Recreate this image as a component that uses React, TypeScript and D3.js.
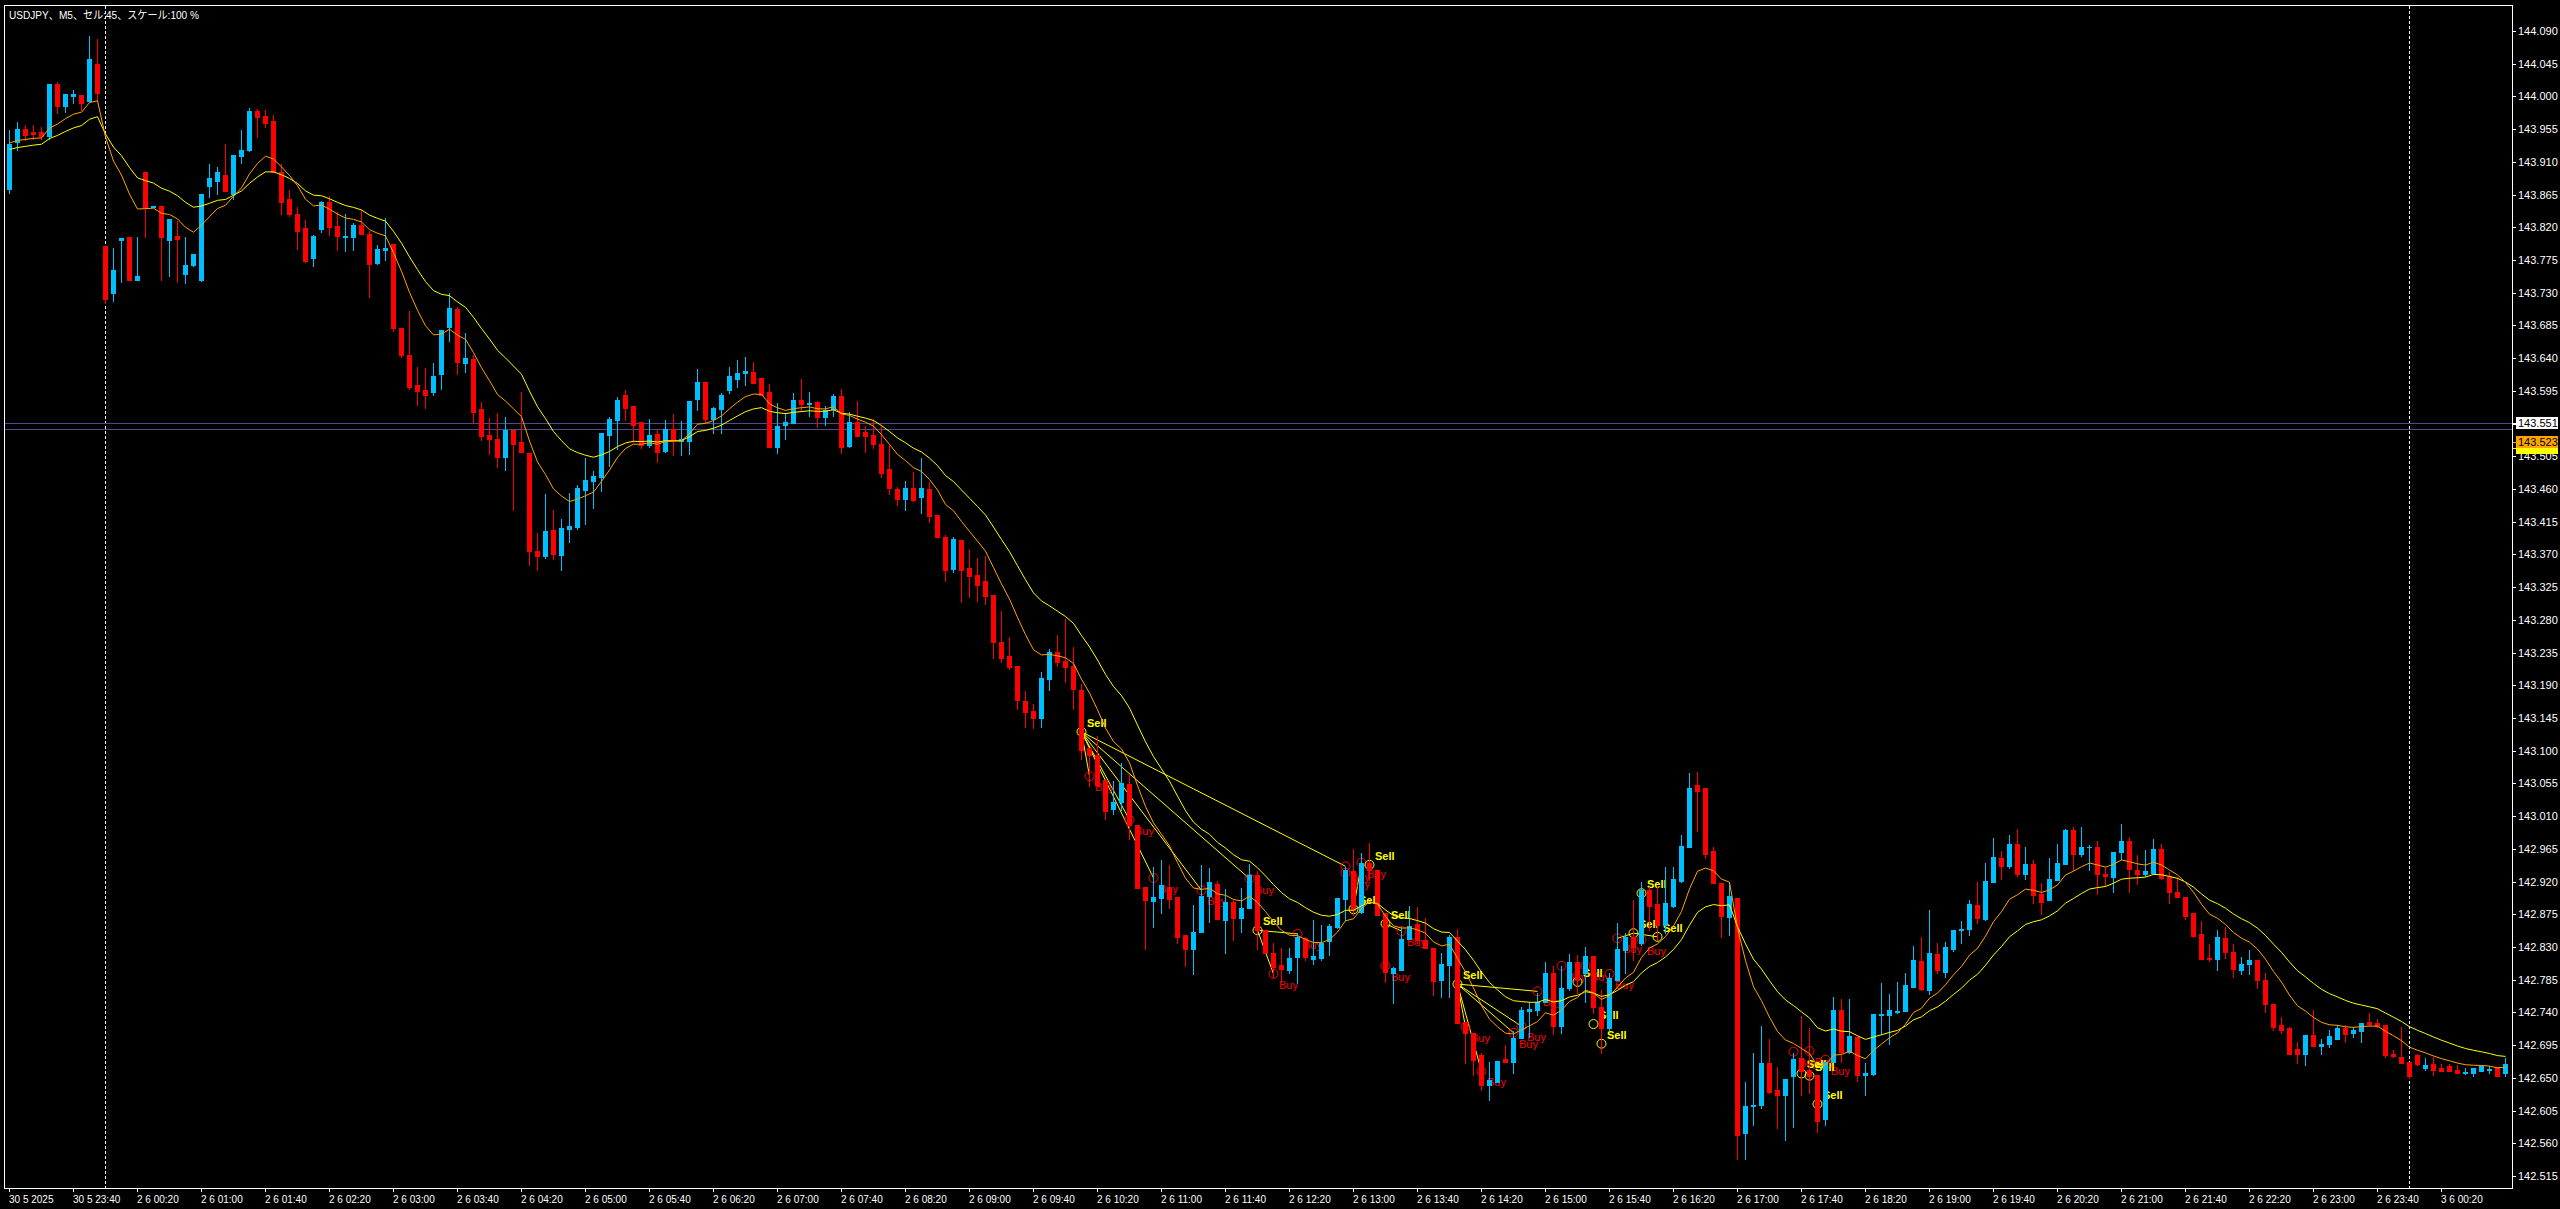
import * as d3 from "d3";

const W = 2560;
const H = 1209;

// M5 bars [open, high, low, close], first bar 30.05 23:00
const ohlc: [number, number, number, number][] = [
  [143.873, 143.954, 143.867, 143.935], [143.937, 143.965, 143.926, 143.955], [143.955, 143.961, 143.940, 143.947],
  [143.951, 143.961, 143.942, 143.949], [143.951, 143.958, 143.942, 143.946], [143.946, 144.017, 143.942, 144.017],
  [144.017, 144.020, 143.977, 143.987], [143.987, 144.003, 143.979, 144.003], [144.001, 144.009, 143.991, 144.003],
  [144.002, 144.002, 143.981, 143.991], [143.994, 144.083, 143.994, 144.051], [144.045, 144.079, 143.995, 144.005],
  [143.794, 143.794, 143.716, 143.721], [143.730, 143.792, 143.718, 143.761], [143.803, 143.805, 143.745, 143.805],
  [143.807, 143.807, 143.748, 143.748], [143.747, 143.807, 143.747, 143.753], [143.896, 143.896, 143.806, 143.848],
  [143.848, 143.849, 143.848, 143.849], [143.849, 143.849, 143.747, 143.807], [143.802, 143.831, 143.753, 143.831],
  [143.808, 143.828, 143.745, 143.804], [143.756, 143.807, 143.744, 143.768], [143.768, 143.783, 143.767, 143.783],
  [143.747, 143.866, 143.746, 143.866], [143.877, 143.907, 143.862, 143.888], [143.884, 143.903, 143.866, 143.896],
  [143.892, 143.935, 143.870, 143.870], [143.866, 143.919, 143.859, 143.919], [143.918, 143.954, 143.909, 143.926],
  [143.926, 143.984, 143.925, 143.980], [143.980, 143.983, 143.944, 143.972], [143.973, 143.981, 143.958, 143.963],
  [143.966, 143.974, 143.896, 143.896], [143.896, 143.907, 143.838, 143.855], [143.859, 143.871, 143.836, 143.838],
  [143.838, 143.848, 143.790, 143.815], [143.819, 143.830, 143.772, 143.774], [143.778, 143.809, 143.767, 143.808],
  [143.818, 143.856, 143.814, 143.855], [143.855, 143.863, 143.809, 143.820], [143.822, 143.841, 143.789, 143.808],
  [143.807, 143.838, 143.787, 143.808], [143.807, 143.826, 143.789, 143.823], [143.823, 143.844, 143.811, 143.811],
  [143.811, 143.815, 143.724, 143.769], [143.771, 143.796, 143.769, 143.790], [143.789, 143.833, 143.775, 143.792],
  [143.797, 143.797, 143.677, 143.681], [143.681, 143.681, 143.642, 143.644], [143.644, 143.705, 143.597, 143.600],
  [143.603, 143.628, 143.576, 143.595], [143.596, 143.626, 143.571, 143.589], [143.593, 143.633, 143.589, 143.615],
  [143.618, 143.679, 143.597, 143.679], [143.683, 143.730, 143.664, 143.709], [143.708, 143.710, 143.618, 143.635],
  [143.633, 143.675, 143.621, 143.640], [143.639, 143.644, 143.551, 143.566], [143.570, 143.580, 143.527, 143.533],
  [143.534, 143.558, 143.508, 143.529], [143.529, 143.564, 143.490, 143.504], [143.504, 143.559, 143.486, 143.541],
  [143.541, 143.541, 143.431, 143.522], [143.525, 143.593, 143.511, 143.511], [143.510, 143.510, 143.355, 143.375],
  [143.375, 143.400, 143.349, 143.368], [143.368, 143.453, 143.365, 143.402], [143.404, 143.431, 143.364, 143.371],
  [143.369, 143.419, 143.349, 143.406], [143.405, 143.454, 143.387, 143.409], [143.408, 143.466, 143.405, 143.461],
  [143.459, 143.503, 143.412, 143.472], [143.471, 143.485, 143.434, 143.478], [143.477, 143.537, 143.457, 143.537],
  [143.534, 143.559, 143.492, 143.556], [143.555, 143.587, 143.515, 143.582], [143.589, 143.596, 143.555, 143.571],
  [143.574, 143.574, 143.525, 143.548], [143.552, 143.552, 143.516, 143.521], [143.521, 143.556, 143.518, 143.534],
  [143.536, 143.541, 143.497, 143.511], [143.512, 143.555, 143.511, 143.543], [143.543, 143.563, 143.507, 143.527],
  [143.526, 143.554, 143.507, 143.529], [143.526, 143.581, 143.508, 143.581], [143.584, 143.625, 143.569, 143.607],
  [143.607, 143.607, 143.551, 143.556], [143.556, 143.573, 143.537, 143.571], [143.570, 143.592, 143.537, 143.589],
  [143.596, 143.628, 143.592, 143.615], [143.611, 143.637, 143.600, 143.620], [143.620, 143.642, 143.603, 143.622],
  [143.621, 143.635, 143.606, 143.606], [143.613, 143.613, 143.589, 143.589], [143.593, 143.604, 143.518, 143.518],
  [143.518, 143.578, 143.510, 143.547], [143.548, 143.564, 143.529, 143.552], [143.551, 143.592, 143.551, 143.582],
  [143.582, 143.611, 143.567, 143.577], [143.577, 143.593, 143.560, 143.578], [143.580, 143.581, 143.545, 143.559],
  [143.559, 143.574, 143.548, 143.569], [143.570, 143.591, 143.560, 143.588], [143.588, 143.597, 143.510, 143.518],
  [143.519, 143.566, 143.518, 143.552], [143.552, 143.581, 143.533, 143.533], [143.538, 143.547, 143.511, 143.533],
  [143.534, 143.556, 143.516, 143.522], [143.522, 143.548, 143.476, 143.482], [143.488, 143.521, 143.453, 143.461],
  [143.460, 143.463, 143.438, 143.446], [143.446, 143.471, 143.431, 143.461], [143.461, 143.483, 143.443, 143.445],
  [143.449, 143.503, 143.427, 143.461], [143.460, 143.470, 143.415, 143.423], [143.424, 143.424, 143.394, 143.394],
  [143.394, 143.397, 143.333, 143.349], [143.350, 143.394, 143.346, 143.391], [143.390, 143.390, 143.305, 143.349],
  [143.351, 143.377, 143.311, 143.340], [143.342, 143.365, 143.306, 143.328], [143.333, 143.368, 143.302, 143.313],
  [143.314, 143.314, 143.228, 143.250], [143.250, 143.292, 143.222, 143.228], [143.230, 143.256, 143.212, 143.215],
  [143.216, 143.216, 143.157, 143.170], [143.168, 143.182, 143.133, 143.153], [143.155, 143.164, 143.131, 143.145],
  [143.145, 143.208, 143.133, 143.200], [143.199, 143.240, 143.184, 143.236], [143.236, 143.259, 143.217, 143.222],
  [143.223, 143.281, 143.194, 143.215], [143.216, 143.243, 143.157, 143.185], [143.184, 143.192, 143.089, 143.101],
  [143.104, 143.104, 143.051, 143.094], [143.094, 143.120, 143.053, 143.053], [143.060, 143.060, 143.006, 143.017],
  [143.020, 143.058, 143.013, 143.030], [143.030, 143.083, 143.018, 143.056], [143.054, 143.068, 142.979, 142.998],
  [142.998, 142.998, 142.911, 142.911], [142.913, 142.913, 142.827, 142.894], [142.893, 142.940, 142.857, 142.899],
  [142.897, 142.950, 142.877, 142.915], [142.913, 142.943, 142.884, 142.896], [142.899, 142.899, 142.835, 142.844],
  [142.846, 142.846, 142.804, 142.827], [142.827, 142.888, 142.793, 142.851], [142.851, 142.943, 142.851, 142.900],
  [142.900, 142.939, 142.864, 142.919], [142.917, 142.921, 142.868, 142.868], [142.867, 142.910, 142.822, 142.892],
  [142.892, 142.895, 142.840, 142.870], [142.870, 142.911, 142.851, 142.884], [142.884, 142.944, 142.884, 142.929],
  [142.929, 142.935, 142.827, 142.853], [142.853, 142.853, 142.822, 142.822], [142.822, 142.835, 142.789, 142.802],
  [142.805, 142.829, 142.782, 142.800], [142.798, 142.829, 142.794, 142.815], [142.816, 142.849, 142.780, 142.844],
  [142.842, 142.844, 142.812, 142.816], [142.813, 142.867, 142.807, 142.818], [142.815, 142.860, 142.812, 142.835],
  [142.838, 142.862, 142.819, 142.859], [142.857, 142.897, 142.856, 142.897], [142.896, 142.940, 142.867, 142.936],
  [142.935, 142.965, 142.874, 142.881], [142.878, 142.959, 142.877, 142.946], [142.946, 142.973, 142.922, 142.936],
  [142.936, 142.936, 142.874, 142.874], [142.877, 142.877, 142.782, 142.796], [142.794, 142.802, 142.753, 142.801],
  [142.798, 142.857, 142.798, 142.841], [142.841, 142.886, 142.841, 142.859], [142.862, 142.885, 142.835, 142.840],
  [142.840, 142.870, 142.829, 142.829], [142.829, 142.829, 142.764, 142.783], [142.785, 142.822, 142.761, 142.807],
  [142.805, 142.847, 142.761, 142.844], [142.844, 142.855, 142.726, 142.726], [142.727, 142.727, 142.670, 142.712],
  [142.712, 142.712, 142.654, 142.675], [142.681, 142.684, 142.633, 142.640], [142.640, 142.672, 142.620, 142.647],
  [142.644, 142.673, 142.644, 142.673], [142.676, 142.695, 142.672, 142.672], [142.672, 142.714, 142.657, 142.705],
  [142.705, 142.747, 142.705, 142.743], [142.742, 142.754, 142.706, 142.745], [142.743, 142.767, 142.737, 142.754],
  [142.754, 142.809, 142.754, 142.794], [142.794, 142.804, 142.711, 142.722], [142.722, 142.804, 142.712, 142.773],
  [142.773, 142.820, 142.771, 142.810], [142.810, 142.819, 142.767, 142.785], [142.794, 142.830, 142.755, 142.817],
  [142.818, 142.818, 142.739, 142.748], [142.748, 142.771, 142.684, 142.718], [142.718, 142.794, 142.716, 142.787],
  [142.784, 142.863, 142.784, 142.827], [142.826, 142.849, 142.794, 142.844], [142.844, 142.895, 142.812, 142.830],
  [142.835, 142.920, 142.833, 142.908], [142.908, 142.913, 142.853, 142.887], [142.889, 142.913, 142.840, 142.860],
  [142.860, 142.940, 142.849, 142.890], [142.886, 142.940, 142.885, 142.924], [142.921, 142.984, 142.920, 142.969],
  [142.968, 143.069, 142.968, 143.049], [143.053, 143.071, 142.990, 143.044], [143.049, 143.049, 142.953, 142.958],
  [142.962, 142.967, 142.918, 142.918], [142.918, 142.918, 142.844, 142.872], [142.871, 142.920, 142.847, 142.900],
  [142.897, 142.897, 142.539, 142.571], [142.574, 142.644, 142.539, 142.611], [142.611, 142.684, 142.585, 142.613],
  [142.613, 142.721, 142.609, 142.670], [142.670, 142.704, 142.629, 142.631], [142.633, 142.665, 142.581, 142.626],
  [142.626, 142.649, 142.565, 142.649], [142.653, 142.684, 142.582, 142.676], [142.678, 142.735, 142.626, 142.659],
  [142.661, 142.718, 142.629, 142.652], [142.654, 142.654, 142.576, 142.591], [142.593, 142.672, 142.585, 142.672],
  [142.672, 142.761, 142.672, 142.743], [142.743, 142.759, 142.672, 142.686], [142.686, 142.758, 142.684, 142.707],
  [142.706, 142.706, 142.646, 142.654], [142.654, 142.670, 142.626, 142.656], [142.655, 142.738, 142.654, 142.738],
  [142.737, 142.781, 142.711, 142.738], [142.736, 142.766, 142.697, 142.743], [142.741, 142.782, 142.739, 142.742],
  [142.742, 142.794, 142.742, 142.778], [142.775, 142.831, 142.775, 142.812], [142.811, 142.844, 142.771, 142.772],
  [142.771, 142.881, 142.766, 142.822], [142.820, 142.836, 142.794, 142.798], [142.796, 142.837, 142.789, 142.830],
  [142.827, 142.853, 142.824, 142.853], [142.854, 142.866, 142.836, 142.855], [142.855, 142.895, 142.847, 142.889],
  [142.888, 142.920, 142.863, 142.870], [142.869, 142.945, 142.867, 142.921], [142.920, 142.980, 142.920, 142.954],
  [142.953, 142.962, 142.924, 142.941], [142.942, 142.984, 142.938, 142.972], [142.972, 142.993, 142.927, 142.930],
  [142.930, 142.968, 142.923, 142.944], [142.944, 142.950, 142.891, 142.901], [142.903, 142.918, 142.875, 142.892],
  [142.894, 142.952, 142.894, 142.924], [142.922, 142.972, 142.922, 142.946], [142.944, 142.992, 142.944, 142.991],
  [142.991, 142.995, 142.936, 142.958], [142.958, 142.995, 142.955, 142.968], [142.967, 142.970, 142.936, 142.968],
  [142.968, 142.976, 142.903, 142.931], [142.930, 142.940, 142.914, 142.927], [142.926, 142.961, 142.905, 142.961],
  [142.960, 142.999, 142.951, 142.976], [142.976, 142.981, 142.906, 142.937], [142.936, 142.957, 142.917, 142.931],
  [142.930, 142.964, 142.927, 142.935], [142.932, 142.978, 142.931, 142.965], [142.965, 142.972, 142.923, 142.925],
  [142.926, 142.933, 142.890, 142.905], [142.906, 142.926, 142.899, 142.899], [142.899, 142.899, 142.869, 142.872],
  [142.877, 142.877, 142.844, 142.845], [142.848, 142.866, 142.814, 142.814], [142.815, 142.834, 142.811, 142.814],
  [142.814, 142.853, 142.799, 142.844], [142.842, 142.858, 142.815, 142.823], [142.823, 142.834, 142.789, 142.800],
  [142.799, 142.816, 142.793, 142.807], [142.806, 142.826, 142.793, 142.812], [142.812, 142.812, 142.773, 142.784],
  [142.784, 142.794, 142.741, 142.751], [142.752, 142.752, 142.716, 142.720], [142.723, 142.734, 142.712, 142.716],
  [142.719, 142.720, 142.683, 142.683], [142.690, 142.699, 142.671, 142.683], [142.683, 142.709, 142.668, 142.709],
  [142.709, 142.743, 142.694, 142.694], [142.694, 142.704, 142.683, 142.696], [142.697, 142.716, 142.693, 142.708],
  [142.704, 142.723, 142.704, 142.719], [142.719, 142.723, 142.699, 142.711], [142.712, 142.720, 142.706, 142.716],
  [142.715, 142.726, 142.699, 142.726], [142.727, 142.739, 142.722, 142.724], [142.726, 142.731, 142.720, 142.721],
  [142.723, 142.723, 142.679, 142.682], [142.683, 142.688, 142.679, 142.680], [142.679, 142.720, 142.671, 142.671],
  [142.672, 142.672, 142.650, 142.652], [142.682, 142.683, 142.667, 142.669], [142.664, 142.677, 142.661, 142.668],
  [142.669, 142.679, 142.654, 142.661], [142.664, 142.669, 142.660, 142.660], [142.666, 142.669, 142.660, 142.660],
  [142.661, 142.668, 142.656, 142.656], [142.657, 142.664, 142.655, 142.658], [142.657, 142.664, 142.653, 142.664],
  [142.660, 142.666, 142.660, 142.666], [142.661, 142.666, 142.657, 142.662], [142.665, 142.665, 142.653, 142.653],
  [142.656, 142.677, 142.652, 142.669],
];

// moving averages (EMA): [period, value at first bar]
const maFast: [number, number] = [10, 143.936];
const maSlow: [number, number] = [20, 143.927];

const priceTicks = [
  144.09, 144.045, 144.0, 143.955, 143.91, 143.865, 143.82, 143.775, 143.73, 143.685, 143.64, 143.595,
  143.55, 143.505, 143.46, 143.415, 143.37, 143.325, 143.28, 143.235, 143.19, 143.145, 143.1, 143.055,
  143.01, 142.965, 142.92, 142.875, 142.83, 142.785, 142.74, 142.695, 142.65, 142.605, 142.56, 142.515,
];

// one label every 8 bars
const timeLabels = [
  "30 5 2025", "30 5 23:40", "2 6 00:20", "2 6 01:00", "2 6 01:40", "2 6 02:20", "2 6 03:00", "2 6 03:40",
  "2 6 04:20", "2 6 05:00", "2 6 05:40", "2 6 06:20", "2 6 07:00", "2 6 07:40", "2 6 08:20", "2 6 09:00",
  "2 6 09:40", "2 6 10:20", "2 6 11:00", "2 6 11:40", "2 6 12:20", "2 6 13:00", "2 6 13:40", "2 6 14:20",
  "2 6 15:00", "2 6 15:40", "2 6 16:20", "2 6 17:00", "2 6 17:40", "2 6 18:20", "2 6 19:00", "2 6 19:40",
  "2 6 20:20", "2 6 21:00", "2 6 21:40", "2 6 22:20", "2 6 23:00", "2 6 23:40", "3 6 00:20",
];
const dayBreaks = [12, 300];

const levelLines = [143.551, 143.542];
const priceTags: [number, string, string][] = [
  [143.517, "", "#FFFF00"],
  [143.524, "143.523", "#FFA500"],
  [143.551, "143.551", "#FFFFFF"],
];

// trade arrows [bar, price]
const sells: [number, number][] = [
  [134, 143.126], [156, 142.853], [168, 142.882], [170, 142.943], [172, 142.862], [181, 142.779],
  [196, 142.782], [198, 142.724], [199, 142.697], [203, 142.849], [204, 142.904], [206, 142.844],
  [224, 142.656], [225, 142.653], [226, 142.614],
];
const buys: [number, number][] = [
  [135, 143.065], [140, 143.005], [143, 142.925], [149, 142.908], [155, 142.924], [167, 142.941],
  [167, 142.932], [169, 142.946], [158, 142.793], [161, 142.848], [172, 142.804], [174, 142.852],
  [182, 142.72], [184, 142.659], [188, 142.712], [189, 142.721], [191, 142.769], [194, 142.804],
  [197, 142.804], [200, 142.793], [201, 142.842], [204, 142.84], [223, 142.686], [225, 142.687],
  [227, 142.675],
];
// [bar, price] -> [bar, price]
const tradeLinks: [number, number, number, number][] = [
  [134, 143.126, 135, 143.065], [134, 143.126, 140, 143.005], [134, 143.126, 143, 142.925],
  [134, 143.126, 149, 142.908], [134, 143.126, 155, 142.924], [134, 143.126, 167, 142.941],
  [156, 142.853, 158, 142.793], [156, 142.853, 161, 142.848], [168, 142.882, 169, 142.946],
  [172, 142.862, 172, 142.804], [172, 142.862, 174, 142.852], [181, 142.779, 182, 142.72],
  [181, 142.779, 184, 142.659], [181, 142.779, 188, 142.712], [181, 142.779, 189, 142.721],
  [181, 142.779, 191, 142.769], [201, 142.842, 203, 142.849], [203, 142.849, 206, 142.844],
  [204, 142.904, 204, 142.84],
];

const BULL = "#00BFFF";
const BEAR = "#FF0000";
const FONT = "'Liberation Sans', Arial, 'Noto Sans CJK JP', sans-serif";

function ema(values: number[], period: number, seed: number) {
  const k = 2 / (period + 1);
  let v = seed;
  return values.map((c, i) => (i === 0 ? v : (v = v + k * (c - v))));
}

export default function App() {
  const x = d3.scaleLinear().domain([0, ohlc.length - 1]).range([9, 9 + 8 * (ohlc.length - 1)]);
  const y = d3.scaleLinear().domain([142.515, 144.09]).range([1176, 31]);
  const px = (i: number) => Math.round(x(i));
  const py = (p: number) => Math.round(y(p));

  const closes = ohlc.map((d) => d[3]);
  const fast = ema(closes, maFast[0], maFast[1]);
  const slow = ema(closes, maSlow[0], maSlow[1]);
  const line = d3
    .line<number>()
    .x((_, i) => px(i) + 0.5)
    .y((v) => y(v));

  const fmt = d3.format(".3f");
  const plotR = 2512;
  const plotB = 1188;

  return (
    <div>
      <style>{"body{margin:0;background:#000}"}</style>
      <svg width={W} height={H} style={{ display: "block", background: "#000" }} fontFamily={FONT}>
        <rect x={0} y={0} width={W} height={H} fill="#000" />

        {/* day separators */}
        {dayBreaks.map((b) => (
          <line key={b} x1={px(b) + 0.5} x2={px(b) + 0.5} y1={6} y2={plotB} stroke="#FFFFFF"
            strokeDasharray="3,2" shapeRendering="crispEdges" />
        ))}

        {/* bid / ask lines */}
        {levelLines.map((p) => (
          <line key={p} x1={5} x2={plotR} y1={py(p) + 0.5} y2={py(p) + 0.5} stroke="#4F4A8C"
            shapeRendering="crispEdges" />
        ))}

        {/* trades (drawn behind the candles) */}
        {tradeLinks.map(([b1, p1, b2, p2], i) => (
          <line key={i} x1={px(b1) + 0.5} y1={y(p1)} x2={px(b2) + 0.5} y2={y(p2)} stroke="#FFFF00" strokeWidth={1} />
        ))}
        {buys.map(([b, p], i) => (
          <g key={"b" + i}>
            <circle cx={px(b) + 0.5} cy={y(p)} r={4.5} fill="none" stroke={BEAR} strokeWidth={1} />
            <text x={px(b) + 6} y={y(p) + 15} fill={BEAR} fontSize={11}>Buy</text>
          </g>
        ))}
        {sells.map(([b, p], i) => (
          <g key={"s" + i}>
            <circle cx={px(b) + 0.5} cy={y(p)} r={4.5} fill="none" stroke="#FFFF00" strokeWidth={1} />
            <text x={px(b) + 6} y={y(p) - 5} fill="#FFFF00" fontSize={11} fontWeight="bold">Sell</text>
          </g>
        ))}

        {/* candles */}
        <g shapeRendering="crispEdges">
          {ohlc.map(([o, h, l, c], i) => {
            const cx = px(i);
            const col = c >= o ? BULL : BEAR;
            const top = py(Math.max(o, c));
            const bot = py(Math.min(o, c));
            return (
              <g key={i} fill={col}>
                <rect x={cx} y={py(h)} width={1} height={py(l) - py(h) + 1} />
                <rect x={cx - 2} y={top} width={5} height={Math.max(1, bot - top + 1)} />
              </g>
            );
          })}
        </g>

        {/* moving averages */}
        <path d={line(slow) ?? ""} fill="none" stroke="#FFFF00" strokeWidth={1} />
        <path d={line(fast) ?? ""} fill="none" stroke="#FFA500" strokeWidth={1} />

        {/* frame */}
        <rect x={4.5} y={5.5} width={plotR - 4} height={plotB - 5} fill="none" stroke="#FFFFFF"
          shapeRendering="crispEdges" />

        {/* price axis */}
        {priceTicks.map((p) => (
          <g key={p}>
            <line x1={plotR + 1} x2={plotR + 4} y1={py(p) + 0.5} y2={py(p) + 0.5} stroke="#FFFFFF"
              shapeRendering="crispEdges" />
            <text x={plotR + 6} y={py(p) + 4} fill="#FFFFFF" fontSize={11}>{fmt(p)}</text>
          </g>
        ))}
        {priceTags.map(([p, label, fill]) => (
          <g key={p}>
            <line x1={plotR + 1} x2={plotR + 4} y1={py(p) + 0.5} y2={py(p) + 0.5} stroke={fill}
              shapeRendering="crispEdges" />
            <rect x={plotR + 4} y={py(p) - 6} width={42} height={12} fill={fill} />
            <text x={plotR + 6} y={py(p) + 4} fill="#000000" fontSize={11}>{label}</text>
          </g>
        ))}

        {/* time axis */}
        {timeLabels.map((t, k) => {
          const bx = px(k * 8);
          return (
            <g key={t}>
              <line x1={bx + 0.5} x2={bx + 0.5} y1={plotB + 1} y2={plotB + 4} stroke="#FFFFFF"
                shapeRendering="crispEdges" />
              <text x={bx} y={1203} fill="#FFFFFF" fontSize={10}>{t}</text>
            </g>
          );
        })}

        <text x={9} y={19} fill="#FFFFFF" fontSize={11} textLength={190} lengthAdjust="spacingAndGlyphs">
          USDJPY、M5、セル:45、スケール:100 %
        </text>
      </svg>
    </div>
  );
}
